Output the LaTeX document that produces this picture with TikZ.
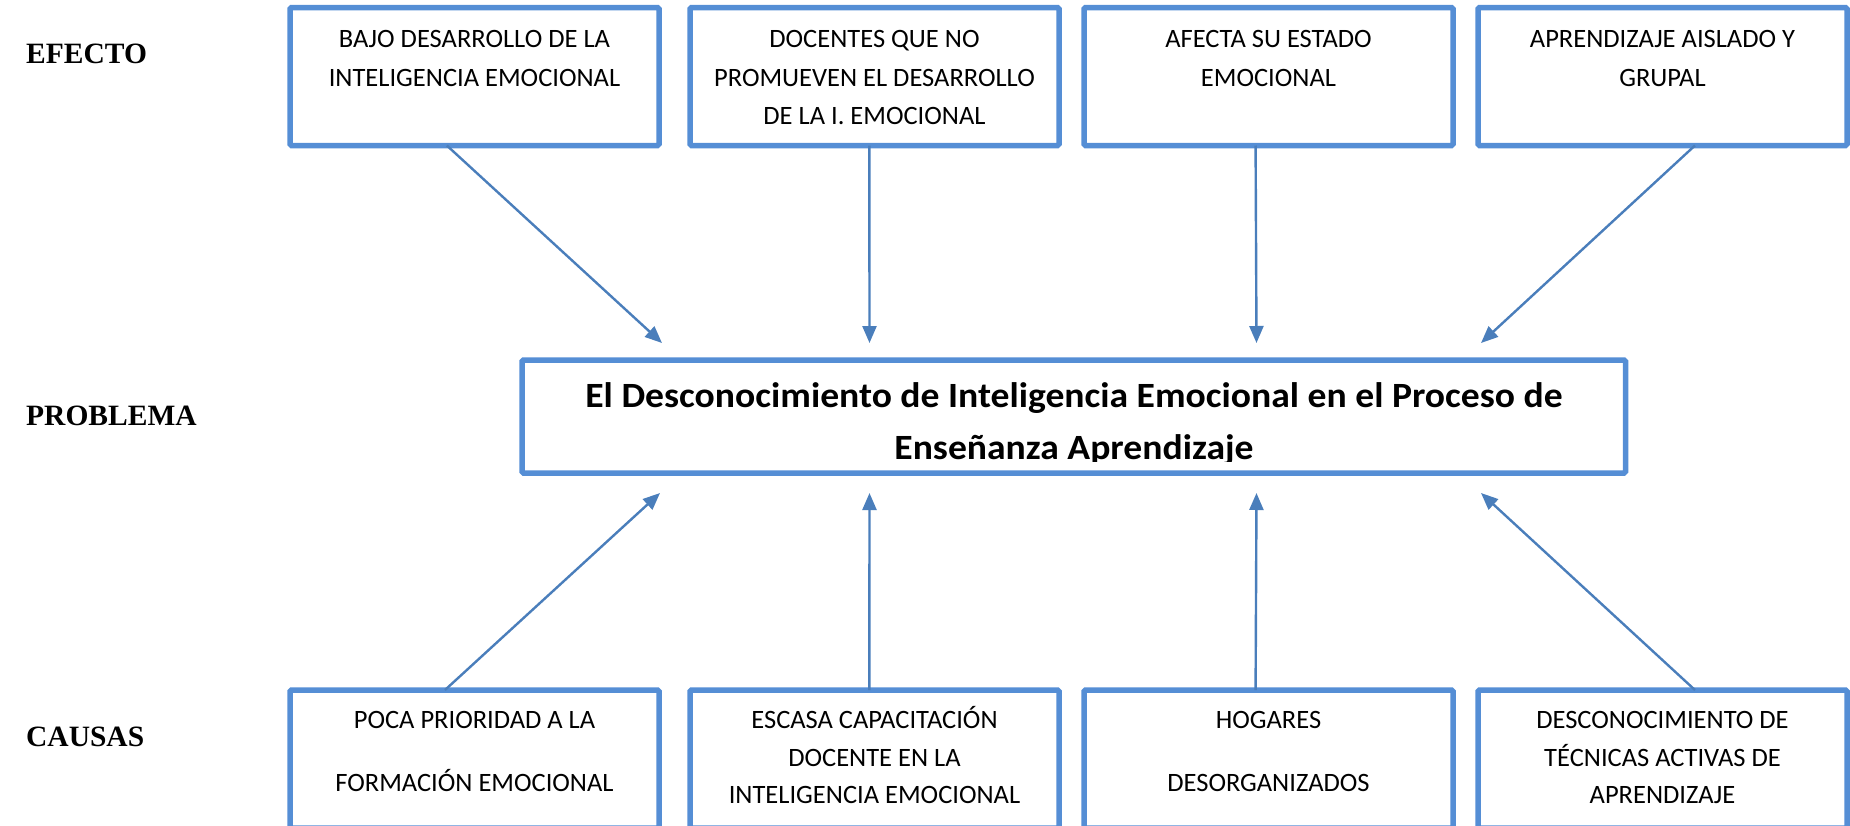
\documentclass[tikz,border=0pt]{standalone}
\usepackage{fontspec}
\setmainfont{Liberation Serif}
\newfontfamily\calibri{Carlito}
\newfontfamily\calibriwide[FakeStretch=1.06]{Carlito}
\usetikzlibrary{arrows.meta,calc}
\definecolor{boxblue}{RGB}{85,142,213}
\definecolor{arrblue}{RGB}{74,126,187}
\begin{document}
\begin{tikzpicture}[x=1pt,y=-1pt,
  box/.style={draw=boxblue, line width=5.5pt, rounded corners=1.5pt, minimum width=369pt, minimum height=138pt, inner sep=0pt, outer sep=0pt},
  txt/.style={font=\calibri\fontsize{26.5}{38.5}\selectfont, align=center, anchor=base, inner sep=0pt},
  btxt/.style={font=\calibri\fontsize{26.5}{37.5}\selectfont, align=center, anchor=base, inner sep=0pt},
  lbl/.style={font=\bfseries\fontsize{29.5}{35}\selectfont, anchor=base west, inner sep=0pt},
  arr/.style={draw=arrblue, line width=2.4pt, -{Triangle[length=17pt,width=14pt]}}
]
\useasboundingbox (0,0) rectangle (1850,825);
\clip (0,0) rectangle (1850,825);

% labels
\node[lbl] (lef) at (26,63) {EFECTO};
\node[lbl] (lpr) at (26,425) {PROBLEMA};
\node[lbl] (lca) at (26,746) {CAUSAS};

% top boxes
\node[box] (e1) at (474.5,76.5) {};
\node[box] (e2) at (874.5,76.5) {};
\node[box] (e3) at (1268.5,76.5) {};
\node[box] (e4) at (1662.5,76.5) {};
% (anchor=base is the baseline of the last line)
\node[txt] (te1) at (474.5,86) {BAJO DESARROLLO DE LA\\INTELIGENCIA EMOCIONAL};
\node[txt] (te2) at (874.5,124.5) {DOCENTES QUE NO\\PROMUEVEN EL DESARROLLO\\DE LA I. EMOCIONAL};
\node[txt] (te3) at (1268.5,86) {AFECTA SU ESTADO\\EMOCIONAL};
\node[txt] (te4) at (1662.5,86) {APRENDIZAJE AISLADO Y\\GRUPAL};

% problem box
\node[box, minimum width=1103.5pt, minimum height=113pt] (p) at (1073.75,416.5) {};
\begin{scope}
\clip (522,360) rectangle (1626,461);
\node[font=\calibriwide\bfseries\fontsize{35.5}{52}\selectfont, align=center, anchor=base, inner sep=0pt] (tp) at (1074,459) {El Desconocimiento de Inteligencia Emocional en el Proceso de\\Enseñanza Aprendizaje};
\end{scope}

% bottom boxes
\node[box] (c1) at (474.5,759) {};
\node[box] (c2) at (874.5,759) {};
\node[box] (c3) at (1268.5,759) {};
\node[box] (c4) at (1662.5,759) {};
\node[btxt] (tc1) at (474.5,791.5) {POCA PRIORIDAD A LA\\[25.5pt]FORMACIÓN EMOCIONAL};
\node[btxt] (tc2) at (874.5,803.5) {ESCASA CAPACITACIÓN\\DOCENTE EN LA\\INTELIGENCIA EMOCIONAL};
\node[btxt] (tc3) at (1268.5,791.5) {HOGARES\\[25.5pt]DESORGANIZADOS};
\node[btxt] (tc4) at (1662.5,803.5) {DESCONOCIMIENTO DE\\TÉCNICAS ACTIVAS DE\\APRENDIZAJE};

% arrow tips
\coordinate (a1) at (662,343);
\coordinate (a2) at (869.5,343);
\coordinate (a3) at (1256.5,343);
\coordinate (a4) at (1481,343);
\coordinate (b1) at (660,493);
\coordinate (b2) at (869.5,493);
\coordinate (b3) at (1256.5,493);
\coordinate (b4) at (1481,493);

% effect arrows
\draw[arr] ($(e1.south west)!0.425!(e1.south east)$) -- (a1);
\draw[arr] ($(e2.south west)!0.486!(e2.south east)$) -- (a2);
\draw[arr] ($(e3.south west)!0.465!(e3.south east)$) -- (a3);
\draw[arr] ($(e4.south west)!0.588!(e4.south east)$) -- (a4);

% cause arrows
\draw[arr] ($(c1.north west)!0.420!(c1.north east)$) -- (b1);
\draw[arr] ($(c2.north west)!0.486!(c2.north east)$) -- (b2);
\draw[arr] ($(c3.north west)!0.465!(c3.north east)$) -- (b3);
\draw[arr] ($(c4.north west)!0.588!(c4.north east)$) -- (b4);
\end{tikzpicture}
\end{document}
